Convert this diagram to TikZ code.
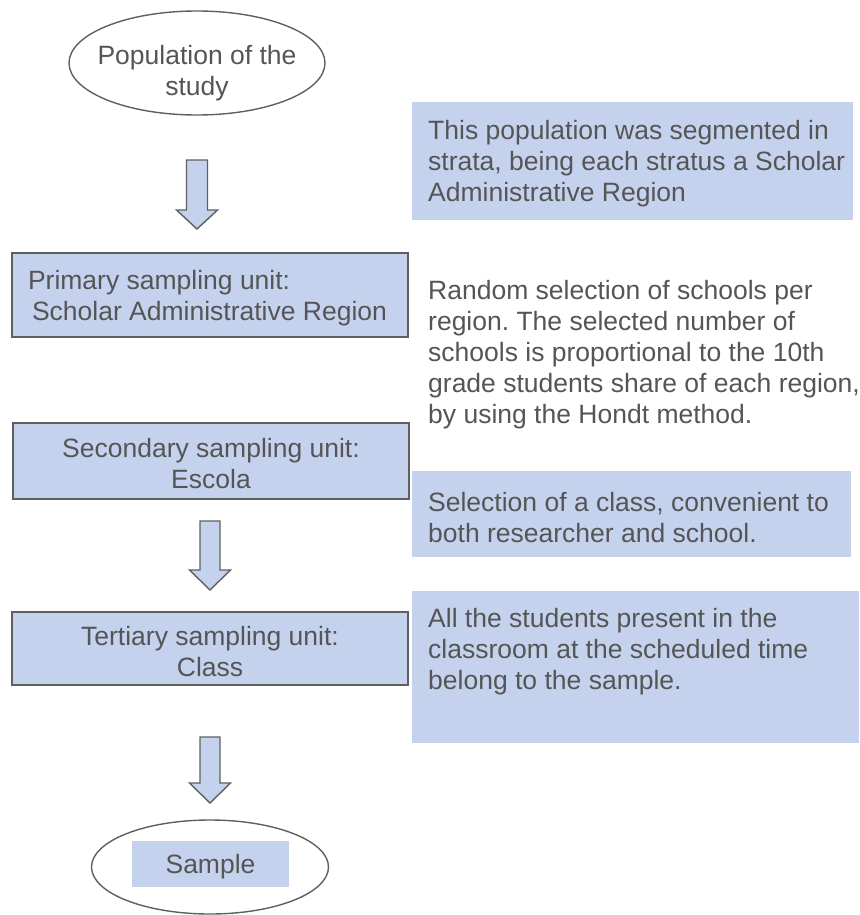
\documentclass[tikz,border=0pt]{standalone}
\usepackage{fontspec}
\setmainfont{Liberation Sans}
\usetikzlibrary{shapes.geometric}
\definecolor{boxblue}{RGB}{197,210,238}
\definecolor{edgegrey}{RGB}{95,95,95}
\definecolor{textgrey}{RGB}{85,85,85}
\tikzset{
  unitbox/.style={rectangle, draw=edgegrey, line width=1.2pt, fill=boxblue,
    inner xsep=16pt, text width=364pt, text height=25pt, text=textgrey},
  notefill/.style={rectangle, fill=boxblue, anchor=north west, inner sep=0pt},
  notetext/.style={align=flush left, text width=440pt, inner sep=0pt, text=textgrey},
  oval/.style={draw=edgegrey, line width=1.4pt},
  blockarrow/.style={draw=edgegrey, line width=1.4pt, fill=boxblue, line join=miter}
}

\begin{document}
\begin{tikzpicture}[x=1pt, y=-1pt, font={\fontsize{26.5pt}{31pt}\selectfont\frenchspacing}]
    \useasboundingbox (0,0) rectangle (859,915);
    % left column
    \node[text=textgrey, align=center] (pop) at (197,73) {Population of the\\study};
    \draw[oval] (197,63) ellipse [x radius=128, y radius=52];
    \draw[blockarrow] (186.5,160)--(207.5,160)--(207.5,210)--(217.5,210)--(197,229)--(176.5,210)--(186.5,210)--cycle;
    \node[unitbox, align=flush left, minimum height=84pt] (primary) at (210,295) {Primary sampling unit:\\\hspace*{4pt}Scholar Administrative Region};
    \node[unitbox, align=flush center, minimum height=76pt] (secondary) at (211,461) {Secondary sampling unit:\\Escola};
    \draw[blockarrow] (200,521)--(220,521)--(220,570)--(230.5,570)--(210,590)--(189.5,570)--(200,570)--cycle;
    \node[unitbox, align=flush center, minimum height=73pt] (tertiary) at (210,648.5) {Tertiary sampling unit:\\Class};
    \draw[blockarrow] (200,737)--(220,737)--(220,783)--(230.5,783)--(210,803)--(189.5,783)--(200,783)--cycle;
    \draw[oval] (210,867) ellipse [x radius=118.5, y radius=47];
    \node[fill=boxblue, minimum width=157pt, minimum height=46pt, inner sep=0pt, text height=25pt, text=textgrey] (sample) at (210.5,864) {Sample};
    % right column
    \node[notefill, minimum width=441pt, minimum height=118pt] (strataBox) at (412,102) {};
    \node[notetext, text height=25pt, anchor=west] (strata) at ([xshift=16pt]strataBox.west) {This population was segmented in\\strata, being each stratus a Scholar\\Administrative Region};
    \node[notetext, anchor=north west] (selection) at (428,280) {Random selection of schools per\\region. The selected number of\\schools is proportional to the 10th\\grade students share of each region,\\by using the Hondt method.};
    \node[notefill, minimum width=439pt, minimum height=86pt] (classBox) at (412,471) {};
    \node[notetext, text height=25pt, anchor=west] (classnote) at ([xshift=16pt]classBox.west) {Selection of a class, convenient to\\both researcher and school.};
    \node[notefill, minimum width=447pt, minimum height=152pt] (sampleBox) at (412,591) {};
    \node[notetext, text height=25pt, anchor=north west] (samplenote) at ([xshift=16pt, yshift=-11.5pt]sampleBox.north west) {All the students present in the\\classroom at the scheduled time\\belong to the sample.};
\end{tikzpicture}
\end{document}
